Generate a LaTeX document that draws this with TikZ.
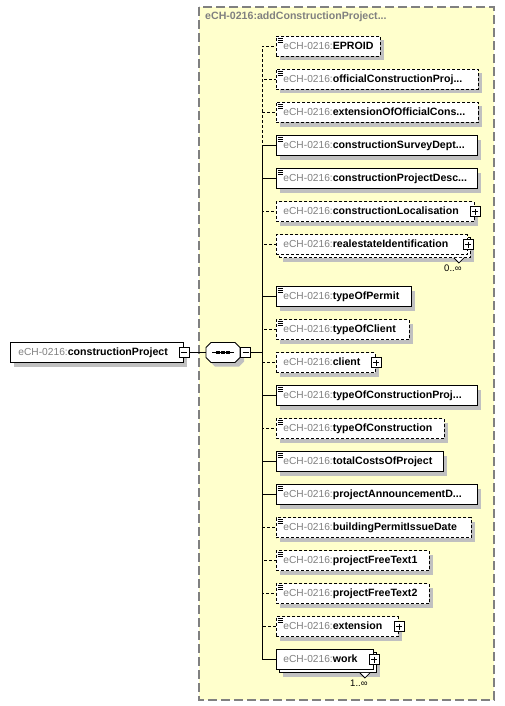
\documentclass[tikz,border=0pt]{standalone}
\usepackage{fontspec}
\setmainfont{Liberation Sans}
\usetikzlibrary{shadows}
\definecolor{ybg}{HTML}{FFFFCC}
\definecolor{bgray}{HTML}{808080}
\definecolor{shc}{HTML}{C0C0C0}
\definecolor{pfx}{HTML}{808080}
\newcommand\pfxf{\fontsize{10.2}{12}\selectfont}
\newcommand\namef{\fontsize{10.6}{12}\selectfont\bfseries}
\newcommand\lbl[1]{{\pfxf\color{pfx}eCH-0216:}{\namef #1}}
\newcommand\elem[5]{\node[#4, minimum width={#3-276}] (#1) at (276,#2) {\makebox[\dimexpr #3pt-290pt\relax][l]{\lbl{#5}}};}
\newcommand\octpath{(206,347.5) -- (211,342.5) -- (235,342.5) -- (240,347.5) -- (240,357.5) -- (235,362.5) -- (211,362.5) -- (206,357.5) -- cycle}
\tikzset{
  lw/.style={line width=0.9pt},
  xbox/.style={draw, fill=white, lw, minimum height=20pt, inner xsep=7pt, inner ysep=0pt, anchor=west, text height=8pt, text depth=2.5pt},
  sh4/.style={drop shadow={shadow xshift=4pt, shadow yshift=-4pt, fill=shc, opacity=1, draw=none}},
  sh7/.style={drop shadow={shadow xshift=7pt, shadow yshift=-7pt, fill=shc, opacity=1, draw=none}},
  dsh/.style={dash pattern=on 3pt off 2pt},
  ico/.style={path picture={\foreach \dy in {1.8,3.8,5.8} \draw[solid, line width=0.8pt] ([shift={(1.5,\dy)}]path picture bounding box.north west) -- ++(5.5,0);}},
  req/.style={xbox, sh4, ico},
  opt/.style={xbox, sh4, ico, dsh},
  reqc/.style={xbox, sh4},
  optc/.style={xbox, sh4, dsh},
  manyreq/.style={xbox, sh7, copy shadow={shadow xshift=3pt, shadow yshift=-3pt, draw, fill=white, lw, solid}},
  manyopt/.style={xbox, sh7, copy shadow={shadow xshift=3pt, shadow yshift=-3pt, draw, fill=white, lw, dsh}, dsh},
  pm/.style={draw, fill=white, solid, line width=0.8pt, minimum size=10pt, inner sep=0pt, anchor=center},
  pmplus/.style={pm, path picture={\draw[solid,line width=0.8pt] ([xshift=2pt]path picture bounding box.west) -- ([xshift=-2pt]path picture bounding box.east) ([yshift=-2pt]path picture bounding box.north) -- ([yshift=2pt]path picture bounding box.south);}},
  pmminus/.style={pm, path picture={\draw[solid,line width=0.8pt] ([xshift=2pt]path picture bounding box.west) -- ([xshift=-2pt]path picture bounding box.east);}},
  wire/.style={lw},
  owire/.style={lw, dsh},
  mult/.style={font=\fontsize{9.5}{11}\selectfont, inner sep=0pt},
}
\begin{document}
\begin{tikzpicture}[x=1pt,y=-1pt]
\useasboundingbox (0,0) rectangle (505,706);
\fill[white] (0,0) rectangle (505,706);
% frame of the type
\draw[bgray, line width=1.2pt, dash pattern=on 9pt off 4pt, fill=ybg] (199,7) rectangle (494,700);
\node[anchor=west, inner sep=0pt, text=bgray, font=\namef] (title) at (205,17) {eCH-0216:addConstructionProject...};
% root element
\node[xbox, sh4, inner xsep=8pt, minimum width=173pt] (cp) at (10,352.5) {\makebox[157pt][l]{\lbl{constructionProject}}};
\node[pmminus] (cpm) at (cp.east) {};
% sequence compositor
\node[minimum width=34pt, minimum height=20pt, inner sep=0pt] (seq) at (223,352.5) {};
\fill[shc, shift={(4,4)}] \octpath;
\draw[lw, fill=white] \octpath;
\draw[lw] (212,352.5) -- (234,352.5);
\foreach \x in {217.8,222.8,227.8} \fill (\x-1.7,350.8) rectangle (\x+1.7,354.2);
\node[pmminus, anchor=west] (seqm) at (seq.east) {};
\coordinate (busc) at (262,352.5);
% children
\elem{e1}{46.5}{380}{opt}{EPROID}
\elem{e2}{79.5}{478}{opt}{officialConstructionProj...}
\elem{e3}{112.5}{478}{opt}{extensionOfOfficialCons...}
\elem{e4}{145.5}{477}{req}{constructionSurveyDept...}
\elem{e5}{178.5}{477}{req}{constructionProjectDesc...}
\elem{e6}{211.5}{474}{optc}{constructionLocalisation}
\elem{e7}{244.5}{467}{manyopt}{realestateIdentification}
\elem{e8}{296.5}{411}{req}{typeOfPermit}
\elem{e9}{329.5}{409}{opt}{typeOfClient}
\elem{e10}{362.5}{375}{optc}{client}
\elem{e11}{395.5}{477}{req}{typeOfConstructionProj...}
\elem{e12}{428.5}{444}{opt}{typeOfConstruction}
\elem{e13}{461.5}{443}{req}{totalCostsOfProject}
\elem{e14}{494.5}{477}{req}{projectAnnouncementD...}
\elem{e15}{527.5}{471}{opt}{buildingPermitIssueDate}
\elem{e16}{560.5}{429}{opt}{projectFreeText1}
\elem{e17}{593.5}{429}{opt}{projectFreeText2}
\elem{e18}{626.5}{398}{opt}{extension}
\elem{e19}{659.5}{373}{manyreq}{work}
\foreach \n in {e6,e7,e10,e18,e19} \node[pmplus] (\n p) at (\n.east) {};
% multiplicity notches
\foreach \n/\m in {e7/0..∞,e19/1..∞}{
  \fill[white] ([shift={(-14,3)}]\n.south east) -- ([shift={(-9,8)}]\n.south east) -- ([shift={(-4,3)}]\n.south east) -- cycle;
  \draw[line width=0.8pt] ([shift={(-14,3)}]\n.south east) -- ([shift={(-9,8)}]\n.south east) -- ([shift={(-4,3)}]\n.south east);
  \node[mult] (\n m) at ([shift={(-15,13.5)}]\n.south east) {\m};
}
% connectors
\draw[wire] (cpm.east) -- (seq.west);
\draw[wire] (seqm.east) -- (busc);
\foreach \n in {e1,e2,e3,e6,e7,e9,e10,e12,e15,e16,e17,e18} \draw[owire] (busc) |- (\n.west);
\foreach \n in {e4,e5,e8,e11,e13,e14,e19} \draw[wire] (busc) |- (\n.west);
\end{tikzpicture}
\end{document}
